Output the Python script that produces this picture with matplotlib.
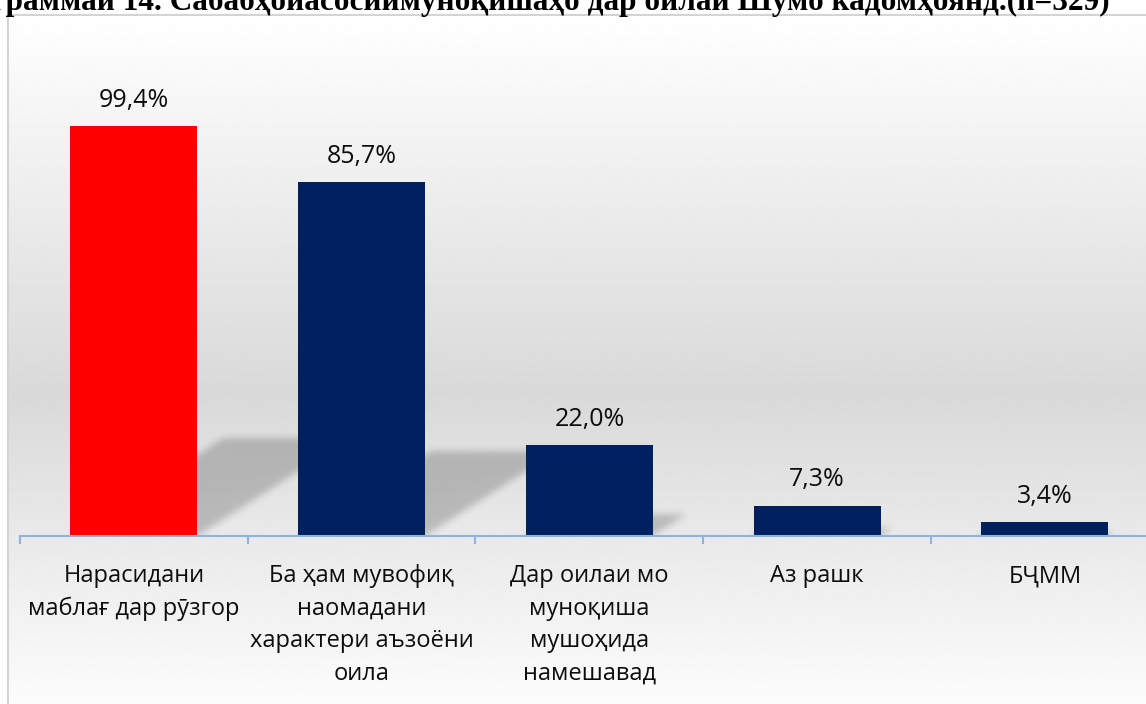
#Diagram 14 - main reasons of conflicts in the family (n=329)
#bar chart with soft perspective shadows on a gradient background

import numpy as np
import matplotlib
matplotlib.use("Agg")
import matplotlib.pyplot as plt
from matplotlib.path import Path

title = "Диаграммаи 14. Сабабҳоиасосиимуноқишаҳо дар оилаи Шумо кадомҳоянд.(n=329)"
categories = [
  "Нарасидани\nмаблағ дар рӯзгор",
  "Ба ҳам мувофиқ\nнаомадани\nхарактери аъзоёни\nоила",
  "Дар оилаи мо\nмуноқиша\nмушоҳида\nнамешавад",
  "Аз рашк",
  "БҶММ",
]
values = [99.4, 85.7, 22.0, 7.3, 3.4]
bar_colors = ["#ff0000", "#002060", "#002060", "#002060", "#002060"]

plt.rcParams['font.family'] = ['Open Sans', 'DejaVu Sans']

W, H = 1146, 704
fig = plt.figure(figsize=(W/100, H/100), dpi=100)

#background frame with vertical gradient white -> grey -> white
bg = fig.add_axes([8/W, 0, 1-8/W, 1-15/H], zorder=0)
pos = np.linspace(0, 1, 400)
grey = np.interp(pos, [0, 0.55, 1.0], [255, 217, 252])
bg.imshow(grey[:, None], cmap="gray", vmin=0, vmax=255, aspect="auto",
          extent=[0, 1, 0, 1], origin="upper", interpolation="bilinear")
bg.set_xlim(0, 1); bg.set_ylim(0, 1)
bg.set_xticks([]); bg.set_yticks([])
for s in ["bottom", "right"]:
  bg.spines[s].set_visible(False)
for s in ["left", "top"]:
  bg.spines[s].set_color("#d4d4d4")
  bg.spines[s].set_linewidth(1.5)

#main axes
px_cat = 227.75   #pixels per category
px_val = 4.125    #pixels per percent
ax = fig.add_axes([20/W, (H-536)/H, (W-20)/W, (536-60)/H], zorder=1)
ax.patch.set_alpha(0)
xlim = (-0.5, -0.5 + (W-20)/px_cat)
ylim = (0, (536-60)/px_val)

x = np.arange(len(values))
bw = 0.557

#shadows: each bar casts a skewed shadow to the back right, blurred
sx = 0.373 * px_val / px_cat
sy = 0.239
gx = np.linspace(-0.5, 4.5, 1140)
gy = np.linspace(-10, 45, 227)
XX, YY = np.meshgrid(gx, gy)
pts = np.column_stack([XX.ravel(), YY.ravel()])
mask = np.zeros(XX.shape)
for xi, v in zip(x, values):
  xl, xr = xi - bw/2, xi + bw/2
  poly = Path([(xl, -10), (xr, -10), (xr, 0), (xr + sx*v, sy*v),
               (xl + sx*v, sy*v), (xl, 0)])
  mask = np.maximum(mask, poly.contains_points(pts).reshape(XX.shape))
sig = 3.5
k = np.exp(-0.5*(np.arange(-12, 13)/sig)**2)
k /= k.sum()
mask = np.apply_along_axis(lambda r: np.convolve(r, k, mode="same"), 1, mask)
mask = np.apply_along_axis(lambda c: np.convolve(c, k, mode="same"), 0, mask)
rgba = np.zeros(XX.shape + (4,))
rgba[..., 3] = 0.2 * mask
ax.imshow(rgba, extent=[gx[0], gx[-1], gy[0], gy[-1]], origin="lower",
          aspect="auto", interpolation="bilinear", zorder=1)

ax.bar(x, values, width=bw, color=bar_colors, zorder=2)

for xi, v in zip(x, values):
  ax.annotate(f"{v:.1f}".replace(".", ",") + "%", (xi, v), xytext=(0, 14),
              textcoords="offset points", ha="center", va="baseline",
              fontsize=18, color="#0d0d0d", zorder=3)

#axis styling
for s in ["left", "top", "right"]:
  ax.spines[s].set_visible(False)
ax.spines["bottom"].set_color("#8db3e2")
ax.spines["bottom"].set_linewidth(1.5)
ax.spines["bottom"].set_zorder(4)
ax.set_yticks([])
ax.set_xticks(x, categories)
ax.set_xticks(np.arange(-0.5, len(values)), minor=True)
ax.tick_params(axis="x", which="major", length=0, pad=20.5,
               labelsize=17, labelcolor="#0d0d0d")
ax.tick_params(axis="x", which="minor", length=6, width=1.5, color="#8db3e2")
for lab in ax.get_xticklabels():
  lab.set_linespacing(1.47)
ax.set_xlim(*xlim)
ax.set_ylim(*ylim)

fig.text(1110/W, 1 - 10/H, title, ha="right", va="baseline", fontsize=22.5,
         fontfamily="Liberation Serif", fontweight="bold", color="black")

fig.savefig("out.png", dpi=100)
